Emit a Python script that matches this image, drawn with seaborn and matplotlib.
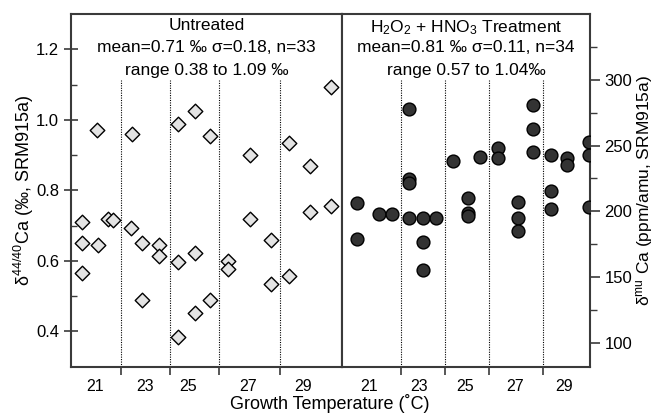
import numpy as np
import pandas as pd
import matplotlib
matplotlib.use("Agg")
import matplotlib.pyplot as plt
import seaborn as sns

# untreated samples (diamonds, left axis)
untreated_temp = [21.06, 22.38, 24.17, 24.81, 25.39, 26.92, 28.42, 29.23, 30.03,
                  20.46, 20.46, 20.46, 21.10, 21.48, 21.65, 22.36, 22.79, 22.79,
                  23.44, 23.44, 24.17, 24.17, 24.81, 24.81, 25.39, 26.07, 26.07,
                  26.92, 27.73, 27.73, 28.42, 29.23, 30.03]
untreated_d44 = [0.972, 0.960, 0.989, 1.026, 0.953, 0.901, 0.934, 0.868, 1.093,
                 0.710, 0.651, 0.566, 0.644, 0.719, 0.717, 0.693, 0.652, 0.490,
                 0.644, 0.613, 0.597, 0.383, 0.622, 0.452, 0.490, 0.599, 0.577,
                 0.719, 0.660, 0.534, 0.558, 0.738, 0.755]

# treated samples (circles, right axis)
treated_temp = [20.48, 20.48, 21.41, 21.95, 22.64, 22.64, 22.64, 22.64, 23.23,
                23.23, 23.23, 23.75, 24.46, 25.08, 25.08, 25.08, 25.56, 26.32,
                26.32, 27.14, 27.14, 27.14, 27.74, 27.74, 27.74, 28.48, 28.48,
                28.48, 29.16, 29.16, 30.06, 30.06, 30.06]
treated_dmu = [206.1, 178.6, 197.6, 197.6, 277.9, 224.4, 221.4, 195.1, 195.1,
               176.7, 155.1, 195.1, 238.3, 210.4, 199.0, 196.5, 241.6, 248.5,
               240.8, 207.4, 194.9, 185.0, 281.0, 262.5, 245.4, 242.9, 215.7,
               201.6, 240.4, 235.3, 253.0, 242.9, 203.1]

# x axis: bin boundaries (tick marks + dotted lines) and label positions
left_bounds = [21.96, 23.85, 25.73, 28.07]
left_label_pos = [20.97, 22.89, 24.55, 26.86, 28.97]
right_bounds = [22.31, 24.12, 25.94, 28.18]
right_label_pos = [21.0, 23.05, 24.95, 27.01, 29.04]
temp_labels = ["21", "23", "25", "27", "29"]

left_text = ["Untreated", "mean=0.71 ‰ σ=0.18, n=33", "range 0.38 to 1.09 ‰"]
right_text = ["H$_2$O$_2$ + HNO$_3$ Treatment", "mean=0.81 ‰ σ=0.11, n=34",
              "range 0.57 to 1.04‰"]

sns.set_style("ticks")
plt.rcParams['font.family'] = ['Liberation Sans', 'DejaVu Sans']
plt.rcParams['mathtext.fontset'] = 'custom'
plt.rcParams['mathtext.rm'] = 'Liberation Sans'
plt.rcParams['mathtext.it'] = 'Liberation Sans'
plt.rcParams['text.color'] = 'black'
plt.rcParams['axes.labelcolor'] = 'black'
plt.rcParams['xtick.labelcolor'] = 'black'
plt.rcParams['ytick.labelcolor'] = 'black'

spine_col = "#3a3a3a"

fig = plt.figure(figsize=(6.56, 4.18), dpi=100)
ax1 = fig.add_axes([0.1082, 0.1227, 0.4131, 0.8438])
ax2 = fig.add_axes([0.5213, 0.1227, 0.3781, 0.8438])

df_u = pd.DataFrame({"temp": untreated_temp, "val": untreated_d44})
df_t = pd.DataFrame({"temp": treated_temp, "val": treated_dmu})

sns.scatterplot(data=df_u, x="temp", y="val", marker="D", s=55, color="#e4e4e4",
                edgecolor="black", linewidth=1.0, ax=ax1, zorder=3)
sns.scatterplot(data=df_t, x="temp", y="val", marker="o", s=85, color="#333333",
                edgecolor="black", linewidth=1.0, ax=ax2, zorder=3)

ax1.set_xlim(20.05, 30.46)
ax1.set_ylim(0.30, 1.30)
ax2.set_xlim(19.87, 30.10)
ax2.set_ylim(81.7, 350.2)

for ax, bounds, lpos, lines in [(ax1, left_bounds, left_label_pos, left_text),
                                (ax2, right_bounds, right_label_pos, right_text)]:
    for b in bounds:
        ax.axvline(b, ymin=0, ymax=0.813, color="black", ls=(0, (1, 1.2)), lw=0.8, zorder=1)
    ax.set_xticks(bounds)
    ax.set_xticklabels([])
    ax.set_xticks(lpos, minor=True)
    ax.set_xticklabels(temp_labels, minor=True)
    ax.tick_params(axis="x", which="major", direction="out", length=6, width=1.2, color=spine_col)
    ax.tick_params(axis="x", which="minor", length=0, labelsize=11.5, pad=9)
    for s in ax.spines.values():
        s.set_color(spine_col)
        s.set_linewidth(1.5)
        s.set_visible(True)
    ax.set_xlabel("")
    ax.set_ylabel("")
    for i, t in enumerate(lines):
        ax.text(0.5, 0.988 - i * 0.063, t, transform=ax.transAxes, ha="center",
                va="top", fontsize=12.5)

# left y axis
ax1.set_yticks([0.4, 0.6, 0.8, 1.0, 1.2])
ax1.set_yticks([0.5, 0.7, 0.9, 1.1], minor=True)
ax1.set_yticklabels(["0.4", "0.6", "0.8", "1.0", "1.2"])
ax1.tick_params(axis="y", which="major", direction="inout", length=10, width=1.2,
                color=spine_col, labelsize=12)
ax1.tick_params(axis="y", which="minor", direction="in", length=4, width=1.0, color=spine_col)
ax1.set_ylabel("δ$^{44/40}$Ca (‰, SRM915a)", fontsize=13, labelpad=0)

# right y axis
ax2.yaxis.tick_right()
ax2.yaxis.set_label_position("right")
ax2.set_yticks([100, 150, 200, 250, 300])
ax2.set_yticks([125, 175, 225, 275, 325], minor=True)
ax2.tick_params(axis="y", which="major", direction="out", length=7, width=1.2,
                color=spine_col, labelsize=12)
ax2.tick_params(axis="y", which="minor", direction="out", length=5, width=1.0, color=spine_col)
ax2.set_ylabel("δ$^{mu}$ Ca (ppm/amu, SRM915a)", fontsize=12.5, labelpad=1)

fig.text(0.503, 0.012, "Growth Temperature (˚C)", ha="center", va="bottom", fontsize=13)

fig.savefig("out.png", dpi=100)
